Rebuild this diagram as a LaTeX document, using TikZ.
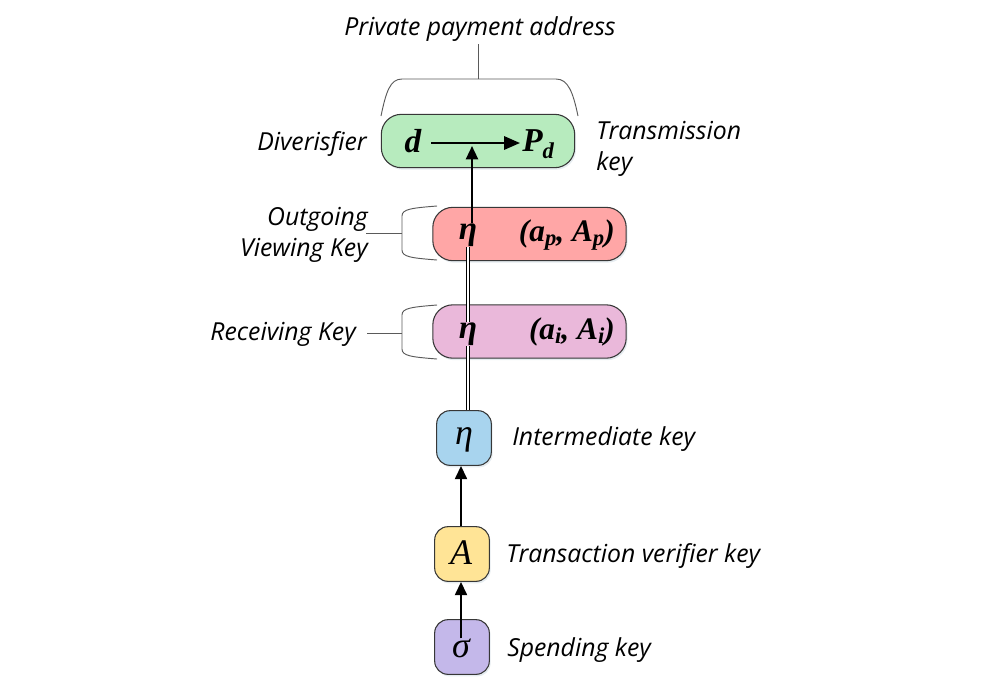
\documentclass[tikz,border=0pt]{standalone}
\usepackage{fontspec}
\setmainfont{Open Sans}
\newfontfamily\tnr{Liberation Serif}
\usetikzlibrary{arrows.meta,shadows}
\definecolor{cgreen}{RGB}{183,235,190}
\definecolor{cred}{RGB}{255,166,166}
\definecolor{cpink}{RGB}{234,184,218}
\definecolor{cblue}{RGB}{168,212,238}
\definecolor{cyellow}{RGB}{255,228,150}
\definecolor{cpurple}{RGB}{196,184,234}
\definecolor{cborder}{RGB}{55,55,55}
\definecolor{cbrace}{RGB}{90,90,90}
\begin{document}
\begin{tikzpicture}[x=0.75pt,y=-0.75pt,
  keybox/.style={draw=cborder,line width=0.8pt,rounded corners=15pt,
    drop shadow={shadow xshift=1pt,shadow yshift=-1.5pt,fill=cblue!60!gray,opacity=0.25}},
  widebox/.style={keybox,minimum width=145pt,minimum height=40pt},
  smallbox/.style={keybox,rounded corners=10pt,minimum width=41pt,minimum height=41pt},
  lbl/.style={font=\fontsize{18.6}{23.5}\selectfont\itshape,inner sep=0pt},
  sym/.style={font=\tnr\fontsize{27}{30}\selectfont\itshape,inner sep=0pt},
  bsym/.style={font=\tnr\fontsize{25}{28}\selectfont\bfseries\itshape,inner sep=0pt},
  psym/.style={font=\tnr\fontsize{23.5}{26}\selectfont\bfseries\itshape,inner sep=0pt},
  arr/.style={line width=1.7pt,-{Triangle[length=10pt,width=9pt]}},
  harr/.style={line width=1.7pt,-{Triangle[length=12pt,width=10pt]}},
  dbl/.style={double,double distance=1.1pt,line width=1.25pt},
  brace/.style={draw=cbrace,line width=0.7pt}]
\useasboundingbox (0,0) rectangle (1000,694);

% boxes
\node[widebox,fill=cgreen] (green) at (478,141) {};
\node[widebox,fill=cred] (red) at (529.5,234) {};
\node[widebox,fill=cpink] (pink) at (529.5,331.5) {};
\node[smallbox,fill=cblue] (blue) at (464,438) {};
\node[smallbox,fill=cyellow] (yellow) at (462,554) {};
\node[smallbox,fill=cpurple] (purple) at (462,647) {};

% contents
\node[bsym] (d) at (413,141) {d};
\node[bsym,anchor=west] (Pd) at (522,144) {P\raisebox{-5pt}{\fontsize{17}{18}\selectfont d}};
\node[bsym] (etaR) at (468,235) {η};
\node[psym,anchor=east] (apAp) at (615,235) {(a\raisebox{-3pt}{\fontsize{17}{18}\selectfont p}, A\raisebox{-3pt}{\fontsize{17}{18}\selectfont p})};
\node[bsym] (etaP) at (468,334) {η};
\node[psym,anchor=east] (aiAi) at (615,332) {(a\raisebox{-3pt}{\fontsize{17}{18}\selectfont i}, A\raisebox{-3pt}{\fontsize{17}{18}\selectfont i})};
\node[sym] (etaB) at (464,440) {η};
\node[sym] (A) at (461,553) {A};
\node[sym] (sigma) at (461,648) {σ};

% connectors
\coordinate (dR) at (431,143);
\coordinate (PdL) at (520,143);
\coordinate (mid) at (472,146);
\draw[harr] (dR) -- (PdL);
\draw[arr] (etaR.north -| mid) -- (mid);
\draw[dbl] (blue.north -| etaR) -- (etaP.south);
\draw[dbl] (etaP.north) -- (etaR.south);
\draw[arr] (sigma.north) -- (sigma.north |- yellow.south);
\draw[arr] (yellow.north -| A) -- (A |- blue.south);

% braces
\draw[brace] (381,116) .. controls (386,92) and (390,79) .. (402,79) -- (556,79) .. controls (568,79) and (573,92) .. (578,116);
\draw[brace] (478,79) -- (478,44);
\draw[brace] (437,206) .. controls (412,208) and (402,209) .. (402,216) -- (402,250) .. controls (402,257) and (412,258) .. (437,260);
\draw[brace] (402,233) -- (366,233);
\draw[brace] (437,305) .. controls (412,307) and (402,308) .. (402,315) -- (402,349) .. controls (402,356) and (412,357) .. (437,359);
\draw[brace] (402,333) -- (367,333);

% labels
\node[lbl] (ppa) at (480,29) {Private payment address};
\node[lbl,anchor=east] (div) at (367,144) {Diverisfier};
\node[lbl,anchor=west,align=left] (tk) at (596,149) {Transmission\\key};
\node[lbl,anchor=east,align=right] (ovk) at (368,235) {Outgoing\\Viewing Key};
\node[lbl,anchor=east] (rk) at (356,334) {Receiving Key};
\node[lbl,anchor=west] (ik) at (512,439) {Intermediate key};
\node[lbl,anchor=west] (tvk) at (506,556) {Transaction verifier key};
\node[lbl,anchor=west] (sk) at (507,650) {Spending key};
\end{tikzpicture}
\end{document}
